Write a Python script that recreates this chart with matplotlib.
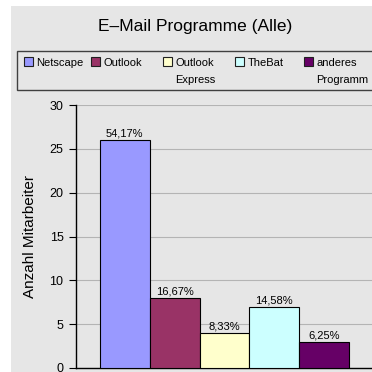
import matplotlib

matplotlib.use("Agg")
import matplotlib.pyplot as plt
from matplotlib.patches import Rectangle

plt.rcParams["font.family"] = ["Liberation Sans", "DejaVu Sans"]

# data
PROGRAMS = ["Netscape", "Outlook", "Outlook\nExpress", "TheBat", "anderes\nProgramm"]
COUNTS = [26, 8, 4, 7, 3]
COLORS = ["#9999FF", "#993366", "#FFFFCC", "#CCFFFF", "#660066"]
Y_TICKS = [0, 5, 10, 15, 20, 25, 30]

# legend layout in pixels (left edge of each swatch)
LEGEND_X = [24, 91, 163, 235, 304]

W, H = 372, 372
BG = "#e6e6e6"

fig = plt.figure(figsize=(W / 100, H / 100), dpi=100)
fig.patch.set_facecolor("white")

# grey chart area with a thin white margin left/top
fig.patches.append(Rectangle((11 / W, 0), 1, 1 - 6 / H, transform=fig.transFigure,
                             facecolor=BG, edgecolor="none", zorder=-10))

fig.text(195 / W, 1 - 26 / H, "E\u2013Mail Programme (Alle)", ha="center", va="center",
         fontsize=12.5, color="black")

# legend box (runs past the right edge like in the original)
fig.patches.append(Rectangle((16.5 / W, 1 - 90 / H), 1, (90 - 51.5) / H,
                             transform=fig.transFigure, facecolor=BG,
                             edgecolor="#404040", linewidth=1.0, zorder=1))
for x0, name, col in zip(LEGEND_X, PROGRAMS, COLORS):
    fig.patches.append(Rectangle((x0 / W, 1 - 66 / H), 9 / W, 9 / H,
                                 transform=fig.transFigure, facecolor=col,
                                 edgecolor="#202020", linewidth=0.8, zorder=2))
    for i, line in enumerate(name.split("\n")):
        fig.text((x0 + 12.5) / W, 1 - (63 + 17 * i) / H, line, ha="left", va="center",
                 fontsize=8, color="black", zorder=3)

ax = fig.add_axes([76 / W, 4 / H, 297 / W, (368 - 105) / H])
ax.set_facecolor(BG)

xs = range(len(COUNTS))
bars = ax.bar(xs, COUNTS, width=1.0, color=COLORS, edgecolor="black", linewidth=0.8, zorder=3)

total = sum(COUNTS)
for b, v in zip(bars, COUNTS):
    pct = f"{v / total * 100:.2f}%".replace(".", ",")
    ax.annotate(pct, (b.get_x() + b.get_width() / 2, v), xytext=(0, 1),
                textcoords="offset points", ha="center", va="bottom", fontsize=8)

ax.set_xlim(-0.98, 4.98)
ax.set_ylim(0, 30)
ax.set_yticks(Y_TICKS)
ax.set_xticks([])
ax.tick_params(axis="y", direction="out", length=5, width=0.8, pad=4, labelsize=9)
ax.yaxis.grid(True, color="#b4b4b4", linewidth=0.8, zorder=0)
ax.set_axisbelow(True)
for side in ["top", "right"]:
    ax.spines[side].set_visible(False)
ax.spines["left"].set_linewidth(1.0)
ax.spines["bottom"].set_linewidth(1.0)

fig.text(30 / W, 1 - 236 / H, "Anzahl Mitarbeiter", rotation=90, ha="center",
         va="center", fontsize=11)

fig.savefig("out.png", dpi=100)
